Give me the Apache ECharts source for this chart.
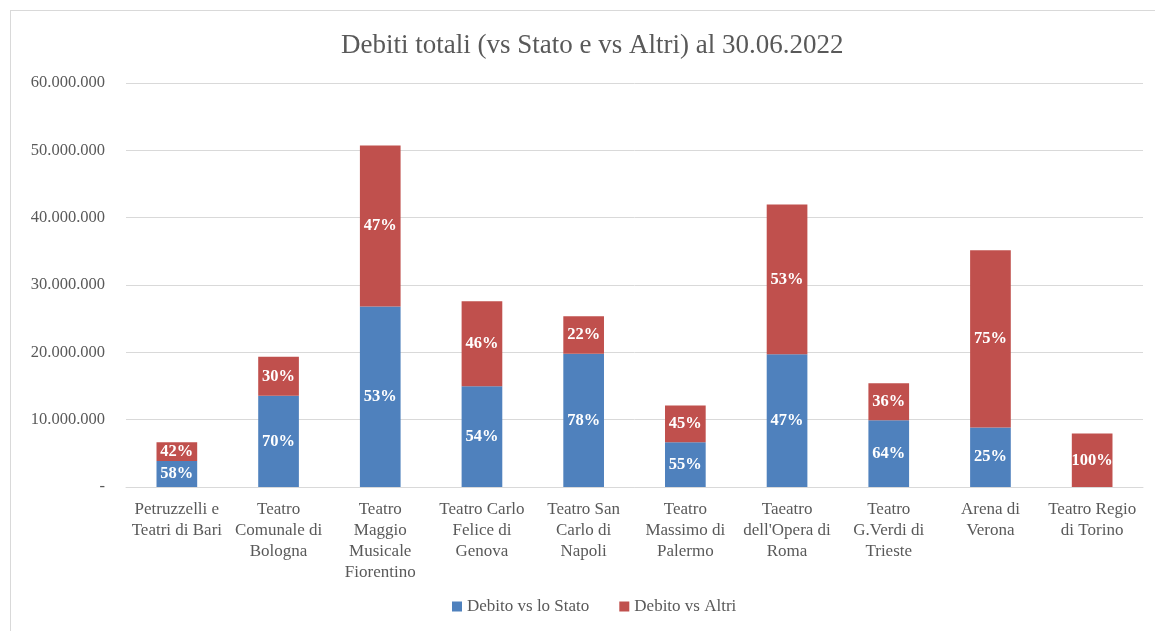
<!DOCTYPE html>
<html>
<head>
<meta charset="utf-8">
<script src="https://cdn.jsdelivr.net/npm/echarts@6/dist/echarts.min.js"></script>
<style>
html,body{margin:0;padding:0;background:#fff;}
#frame{position:absolute;left:10px;top:10px;width:1160px;height:640px;border:1px solid #d9d9d9;box-sizing:border-box;}
#chart{position:absolute;left:0;top:0;width:1155px;height:631px;}
</style>
</head>
<body>
<div id="frame"></div>
<div id="chart"></div>
<script>
const categories = [
  "Petruzzelli e\nTeatri di Bari",
  "Teatro\nComunale di\nBologna",
  "Teatro\nMaggio\nMusicale\nFiorentino",
  "Teatro Carlo\nFelice di\nGenova",
  "Teatro San\nCarlo di\nNapoli",
  "Teatro\nMassimo di\nPalermo",
  "Taeatro\ndell'Opera di\nRoma",
  "Teatro\nG.Verdi di\nTrieste",
  "Arena di\nVerona",
  "Teatro Regio\ndi Torino"
];
const debitoStato = [3850000, 13550000, 26800000, 14950000, 19800000, 6650000, 19700000, 9900000, 8850000, 0];
const debitoAltri = [2800000, 5800000, 23900000, 12650000, 5550000, 5450000, 22250000, 5500000, 26300000, 7950000];
const labelsStato = ["58%", "70%", "53%", "54%", "78%", "55%", "47%", "64%", "25%", ""];
const labelsAltri = ["42%", "30%", "47%", "46%", "22%", "45%", "53%", "36%", "75%", "100%"];
const yTicks = [0, 10000000, 20000000, 30000000, 40000000, 50000000, 60000000];

const FONT = "'Liberation Serif', 'DejaVu Serif', serif";
function fmt(v){
  if (v === 0) return "-";
  return String(v).replace(/\B(?=(\d{3})+(?!\d))/g, ".");
}
const chart = echarts.init(document.getElementById('chart'));
chart.setOption({
  backgroundColor: 'transparent',
  animation: false,
  title: {
    text: 'Debiti totali (vs Stato e vs Altri) al 30.06.2022',
    left: 336, top: 27,
    textStyle: {fontFamily: FONT, fontSize: 27, fontWeight: 'normal', color: '#595959'}
  },
  legend: {
    bottom: 11, left: 447,
    itemWidth: 10, itemHeight: 10, itemGap: 30, itemTextGap: 4,
    icon: 'rect',
    textStyle: {fontFamily: FONT, fontSize: 17, color: '#595959'},
    data: ['Debito vs lo Stato', 'Debito vs Altri']
  },
  grid: {left: 126, right: 12, top: 83, bottom: 144, containLabel: false},
  xAxis: {
    type: 'category',
    data: categories,
    axisLine: {lineStyle: {color: '#d9d9d9', width: 1}},
    axisTick: {show: false},
    axisLabel: {
      interval: 0, fontFamily: FONT, fontSize: 17, color: '#595959',
      lineHeight: 21, margin: 12
    }
  },
  yAxis: {
    type: 'value',
    min: yTicks[0], max: yTicks[yTicks.length - 1], interval: yTicks[1] - yTicks[0],
    axisLine: {show: false},
    axisTick: {show: false},
    splitLine: {lineStyle: {color: '#d9d9d9', width: 1}},
    axisLabel: {
      formatter: fmt, fontFamily: FONT, fontSize: 16.5, color: '#595959', margin: 21
    }
  },
  series: [
    {
      name: 'Debito vs lo Stato', type: 'bar', stack: 'tot',
      data: debitoStato, barWidth: '40%',
      itemStyle: {color: '#4F81BD'},
      label: {
        show: true, position: 'inside',
        formatter: p => labelsStato[p.dataIndex],
        fontFamily: FONT, fontSize: 16.5, fontWeight: 'bold', color: '#ffffff'
      }
    },
    {
      name: 'Debito vs Altri', type: 'bar', stack: 'tot',
      data: debitoAltri, barWidth: '40%',
      itemStyle: {color: '#C0504D'},
      label: {
        show: true, position: 'inside',
        formatter: p => labelsAltri[p.dataIndex],
        fontFamily: FONT, fontSize: 16.5, fontWeight: 'bold', color: '#ffffff'
      }
    }
  ]
});
</script>
</body>
</html>
